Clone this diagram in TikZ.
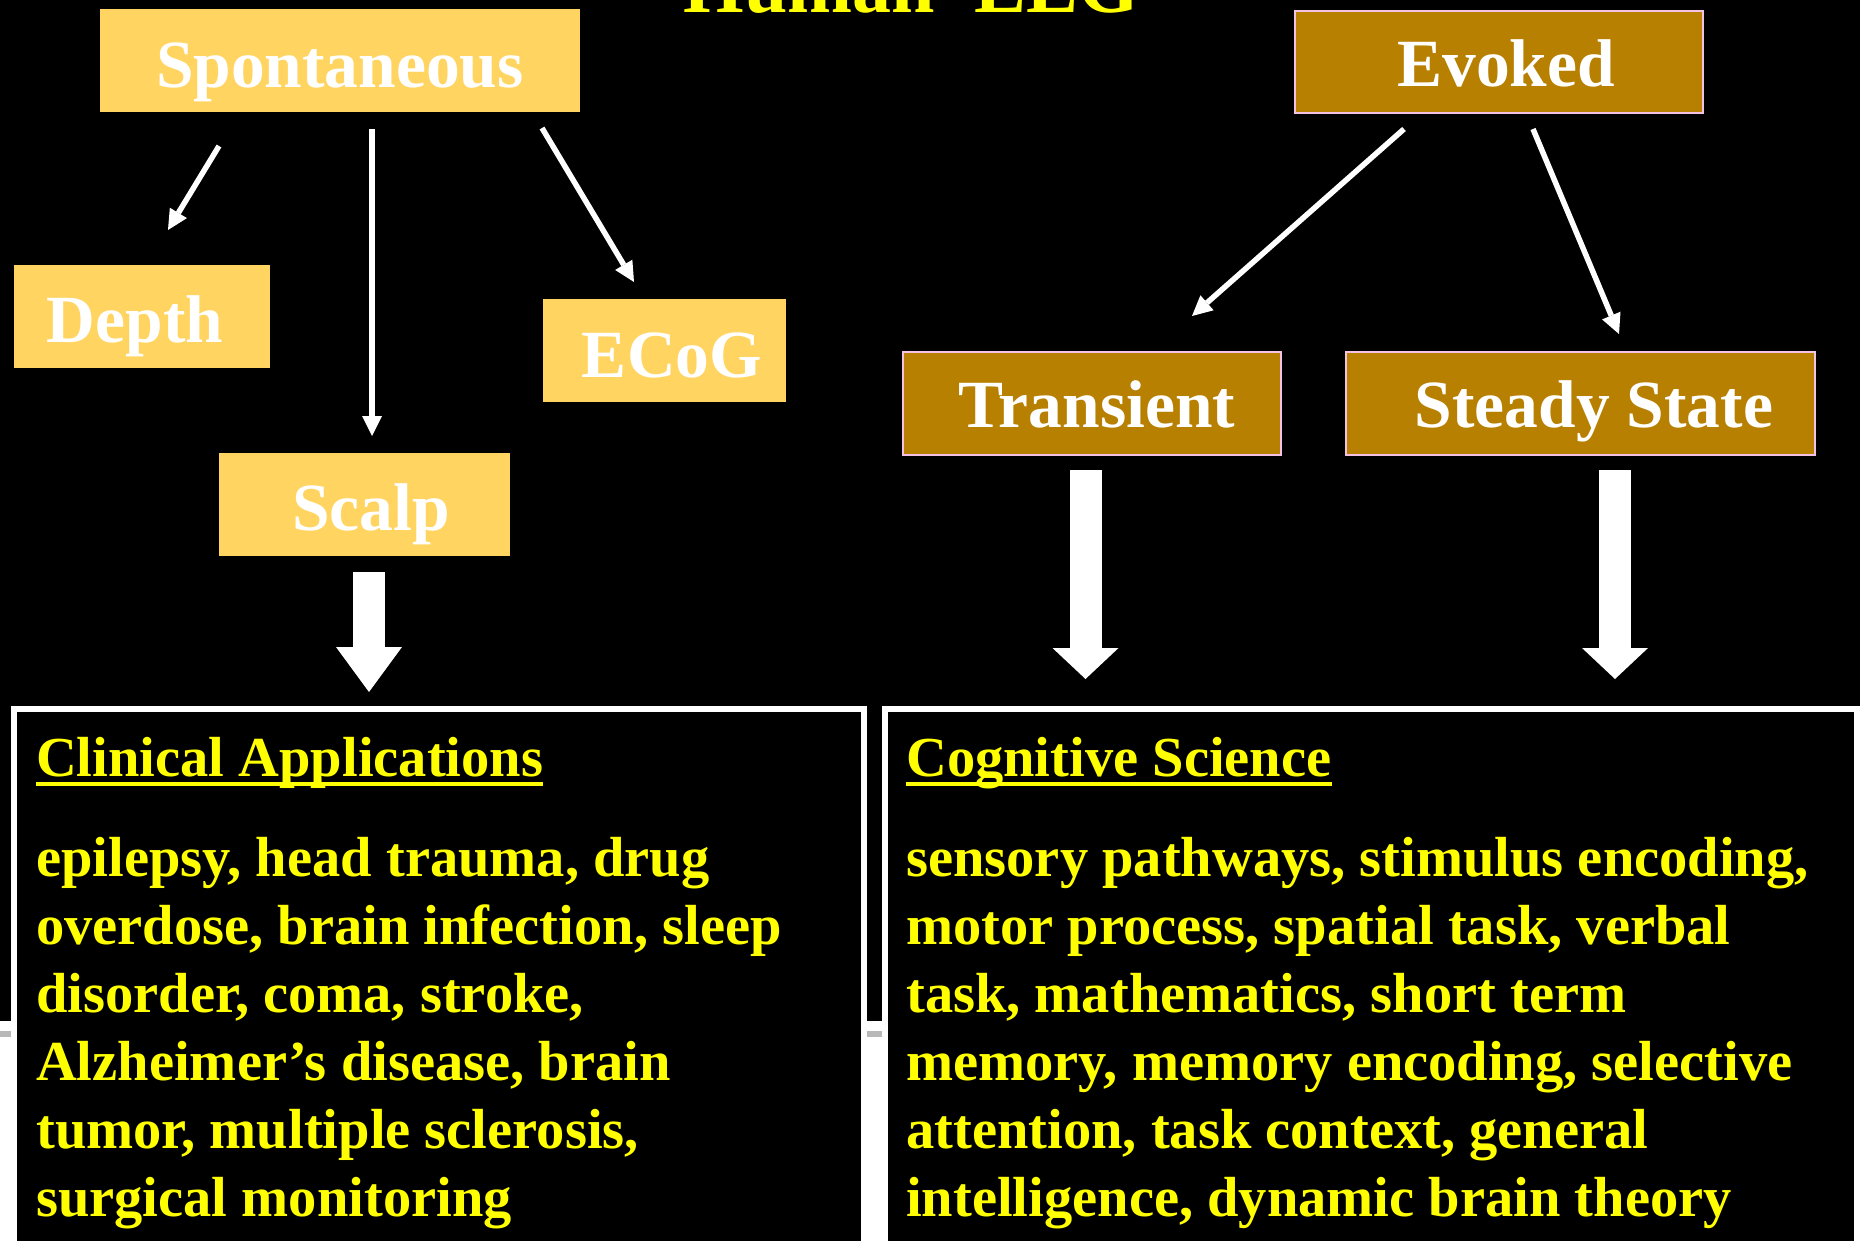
\documentclass[tikz,border=0pt]{standalone}
\usepackage{fontspec}
\setmainfont{Liberation Serif}
\usetikzlibrary{arrows.meta,calc}
\definecolor{lightgold}{HTML}{FFD460}
\definecolor{darkgold}{HTML}{B88000}
\definecolor{pinkedge}{HTML}{F4C2E4}
\definecolor{txtyellow}{HTML}{FFFF00}
\begin{document}
\begin{tikzpicture}[x=1pt,y=-1pt,
  lightbox/.style={fill=lightgold, draw=none, inner sep=0pt, outer sep=0pt},
  darkbox/.style={fill=darkgold, draw=pinkedge, line width=2pt, inner sep=0pt, outer sep=0pt},
  boxlabel/.style={anchor=base, inner sep=0pt, text=white, font=\fontsize{67.5}{80}\selectfont\bfseries},
  thinarrow/.style={draw=white, line width=5.5pt, -{Triangle[length=20pt,width=20pt,line width=0pt]}},
  blockarrow/.style={draw=white, line width=32pt, -{Triangle[length=#1,width=66pt,line width=0pt]}},
  panel/.style={draw=white, fill=black, line width=6pt, inner sep=0pt, outer sep=0pt, anchor=north west},
  headtxt/.style={anchor=base west, inner sep=0pt, text=txtyellow, font=\fontsize{56.5}{68}\selectfont\bfseries},
  bodytxt/.style={anchor=base west, inner sep=0pt, text=txtyellow, font=\fontsize{56.5}{68}\selectfont\bfseries},
  titletxt/.style={anchor=base, inner sep=0pt, text=txtyellow, font=\fontsize{78}{90}\selectfont\bfseries}]
\useasboundingbox (0,0) rectangle (1860,1240);
% background
\fill[black] (0,0) rectangle (1860,1240);
\fill[white] (0,1021) rectangle (1860,1240);
\fill[gray!55] (0,1031) rectangle (11,1037);
\fill[gray!55] (867,1031) rectangle (882,1037);
% title
\node[titletxt] (title) at (911.5,12) {Human\ \ EEG};
% upper boxes
\node[lightbox, minimum width=480pt, minimum height=103pt] (spont) at (340,60.5) {};
\node[boxlabel] (spontT) at (340,87) {Spontaneous};
\node[darkbox, minimum width=408pt, minimum height=102pt] (evoked) at (1499,61.5) {};
\node[boxlabel] (evokedT) at (1506,86) {Evoked};
\node[lightbox, minimum width=256pt, minimum height=103pt] (depth) at (142,316.5) {};
\node[boxlabel] (depthT) at (135,342) {Depth};
\node[lightbox, minimum width=243pt, minimum height=103pt] (ecog) at (664.5,350.5) {};
\node[boxlabel] (ecogT) at (672,377) {ECoG};
\node[lightbox, minimum width=291pt, minimum height=103pt] (scalp) at (364.5,504.5) {};
\node[boxlabel] (scalpT) at (371,530) {Scalp};
\node[darkbox, minimum width=378pt, minimum height=103pt] (trans) at (1092,403.5) {};
\node[boxlabel] (transT) at (1097,427) {Transient};
\node[darkbox, minimum width=469pt, minimum height=103pt] (steady) at (1580.5,403.5) {};
\node[boxlabel] (steadyT) at (1594,427) {Steady State};
% lower panels
\node[panel, minimum width=850pt, minimum height=560pt] (clin) at (14,709) {};
\node[panel, minimum width=972pt, minimum height=560pt] (cogn) at (885,709) {};
% connector end points
\coordinate (sd0) at (219,146);  \coordinate (sd1) at (168,230);
\coordinate (ss0) at (372,129);  \coordinate (ss1) at (372,436);
\coordinate (se0) at (542,128);  \coordinate (se1) at (634,282);
\coordinate (et0) at (1404,129); \coordinate (et1) at (1192,316);
\coordinate (es0) at (1533,129); \coordinate (es1) at (1619,334);
\coordinate (ca0) at (369,572);    \coordinate (ca1) at (369,692);
\coordinate (ta0) at (1085.5,470); \coordinate (ta1) at (1085.5,679);
\coordinate (sa0) at (1615,470);   \coordinate (sa1) at (1615,679);
% thin arrows
\draw[thinarrow] (sd0) -- (sd1);
\draw[thinarrow] (ss0) -- (ss1);
\draw[thinarrow] (se0) -- (se1);
\draw[thinarrow] (et0) -- (et1);
\draw[thinarrow] (es0) -- (es1);
% block arrows
\draw[blockarrow=45pt] (ca0) -- (ca1);
\draw[blockarrow=31pt] (ta0) -- (ta1);
\draw[blockarrow=31pt] (sa0) -- (sa1);
% panel texts
\node[headtxt] (clinH) at (36,776) {Clinical Applications};
\draw[txtyellow, line width=4pt] ($(clinH.base west)+(0,8)$) -- ($(clinH.base east)+(0,8)$);
\node[headtxt] (cognH) at (906,776) {Cognitive Science};
\draw[txtyellow, line width=4pt] ($(cognH.base west)+(0,8)$) -- ($(cognH.base east)+(0,8)$);
\foreach \t [count=\i] in {{epilepsy, head trauma, drug},{overdose, brain infection, sleep},{disorder, coma, stroke,},{Alzheimer’s disease, brain},{tumor, multiple sclerosis,},{surgical monitoring}}
  \node[bodytxt] (cl\i) at (36,{876+68*(\i-1)}) {\t};
\foreach \t [count=\i] in {{sensory pathways, stimulus encoding,},{motor process, spatial task, verbal},{task, mathematics, short term},{memory, memory encoding, selective},{attention, task context, general},{intelligence, dynamic brain theory}}
  \node[bodytxt] (cg\i) at (906,{876+68*(\i-1)}) {\t};
\end{tikzpicture}
\end{document}
